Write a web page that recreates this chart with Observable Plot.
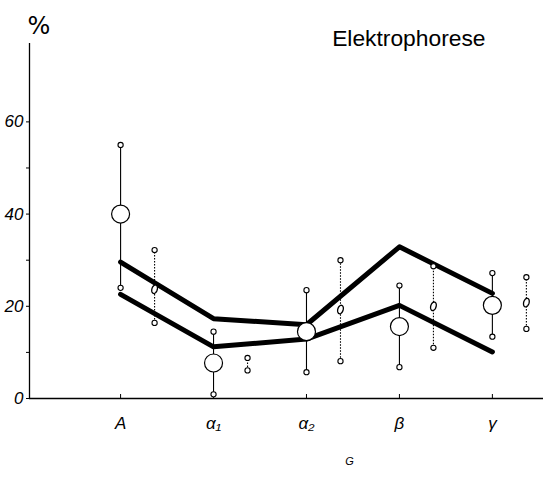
<!DOCTYPE html>
<html><head><meta charset="utf-8">
<script src="https://cdn.jsdelivr.net/npm/d3@7"></script>
<script src="https://cdn.jsdelivr.net/npm/@observablehq/plot@0.6"></script>
<style>body{margin:0;background:#fff} svg{display:block}</style>
</head><body><div id="chart"></div>
<script>
// Categories (G = globulin fractions)
const categories = ["A", "α₁", "α₂", "β", "γ"];
const yTicks = [0, 10, 20, 30, 40, 50, 60];
const yLabels = [0, 20, 40, 60];

// Solid series: mean (large circle) with range (small circles)
const mainMean = [40, 7.7, 14.5, 15.6, 20.2];
const mainLow  = [24, 0.9, 5.7, 6.8, 13.4];
const mainHigh = [55, 14.5, 23.5, 24.5, 27.2];

// Dotted series: mean (small ellipse) with range
const secMean = [23.7, null, 19.3, 20.0, 20.8];
const secLow  = [16.4, 6.1, 8.1, 11.0, 15.1];
const secHigh = [32.2, 8.8, 30.0, 28.7, 26.3];

// Thick lines
const upperLine = [29.6, 17.3, 16.0, 32.9, 22.8];
const lowerLine = [22.6, 11.2, 12.9, 20.2, 10.1];

const xDomain = [-0.98, 4.55];
const yDomain = [0, 77];

const idx = categories.map((_, i) => i);
const main = idx.map(i => ({i, mean: mainMean[i], low: mainLow[i], high: mainHigh[i]}));
const sec = idx.map(i => ({i, mean: secMean[i], low: secLow[i], high: secHigh[i]}));
const ends = d => [{i: d.i, v: d.low}, {i: d.i, v: d.high}];
const mainEnds = main.flatMap(ends);
const secEnds = sec.flatMap(ends);
const up = idx.map(i => ({i, v: upperLine[i]}));
const lo = idx.map(i => ({i, v: lowerLine[i]}));
const secOffset = 34;

// tilted ellipse symbol for the dotted series' mean
const ellipse = {
  draw(context) {
    const rx = 2.7, ry = 4.4, a = 0.3, n = 24;
    for (let k = 0; k <= n; ++k) {
      const t = (k / n) * 2 * Math.PI;
      const ex = rx * Math.cos(t), ey = ry * Math.sin(t);
      const px = ex * Math.cos(a) - ey * Math.sin(a);
      const py = ex * Math.sin(a) + ey * Math.cos(a);
      k === 0 ? context.moveTo(px, py) : context.lineTo(px, py);
    }
    context.closePath();
  }
};

const chart = Plot.plot({
  width: 543, height: 479,
  marginLeft: 29, marginRight: 0, marginTop: 43, marginBottom: 81,
  style: {fontFamily: "'Liberation Sans', Arial, sans-serif", background: "white", color: "black", fontSize: "16px"},
  x: {type: "linear", domain: xDomain},
  y: {domain: yDomain},
  marks: [
    Plot.axisY({ticks: yTicks, tickSize: 3, tickPadding: 3, tickFormat: d => yLabels.includes(d) ? String(d) : "",
      fontSize: 17, fontStyle: "italic", label: null}),
    Plot.axisX({ticks: idx, tickSize: -4, tickPadding: 22, tickFormat: i => categories[i],
      fontSize: 17, fontStyle: "italic", label: null}),
    // axis lines
    Plot.ruleY([yDomain[0]], {stroke: "black", strokeWidth: 1.3}),
    Plot.ruleX([xDomain[0]], {stroke: "black", strokeWidth: 1.3}),
    // whiskers
    Plot.ruleX(main, {x: "i", y1: "low", y2: "high", stroke: "black", strokeWidth: 1.1}),
    Plot.ruleX(sec, {x: "i", y1: "low", y2: "high", stroke: "black", strokeWidth: 1.1, strokeDasharray: "1.5,1.5", dx: secOffset}),
    // thick lines
    Plot.line(up, {x: "i", y: "v", stroke: "black", strokeWidth: 5, strokeLinejoin: "round"}),
    Plot.line(lo, {x: "i", y: "v", stroke: "black", strokeWidth: 5, strokeLinejoin: "round"}),
    // endpoint circles
    Plot.dot(mainEnds, {x: "i", y: "v", r: 2.6, fill: "white", stroke: "black", strokeWidth: 1.1}),
    Plot.dot(secEnds, {x: "i", y: "v", r: 2.6, fill: "white", stroke: "black", strokeWidth: 1.1, dx: secOffset}),
    // mean markers
    Plot.dot(main, {x: "i", y: "mean", r: 9, fill: "white", stroke: "black", strokeWidth: 1.2}),
    Plot.dot(sec.filter(d => d.mean != null), {x: "i", y: "mean", dx: secOffset, symbol: ellipse,
      fill: "white", stroke: "black", strokeWidth: 1.3}),
    // annotations
    Plot.text(["Elektrophorese"], {frameAnchor: "top-right", dx: -58, dy: -14, textAnchor: "end",
      fontSize: 22.8, fill: "black"}),
    Plot.text(["%"], {frameAnchor: "top-left", dx: -2, dy: -27, fontSize: 24, fill: "black",
      fontFamily: "'DejaVu Sans', sans-serif"}),
    Plot.text(["G"], {frameAnchor: "bottom", dx: 63, dy: 66, fontSize: 11, fontStyle: "italic", fill: "black"})
  ]
});
document.getElementById("chart").appendChild(chart);
</script>
</body></html>
